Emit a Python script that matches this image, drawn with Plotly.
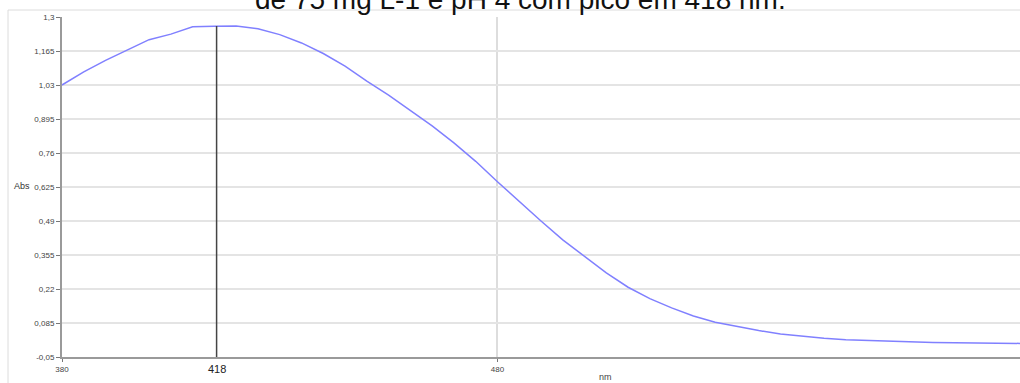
import plotly.graph_objects as go

# Data
wavelength_nm = [380, 385, 390, 395, 400, 405, 410, 415, 420, 425, 430, 435, 440, 445,
                 450, 455, 460, 465, 470, 475, 480, 485, 490, 495, 500, 505, 510, 515,
                 520, 525, 530, 535, 540, 545, 550, 555, 560, 570, 580, 590, 600]
absorbance = [1.030, 1.082, 1.128, 1.170, 1.210, 1.232, 1.261, 1.263, 1.264, 1.253,
              1.230, 1.197, 1.155, 1.105, 1.045, 0.990, 0.930, 0.868, 0.800, 0.727,
              0.646, 0.567, 0.490, 0.415, 0.348, 0.284, 0.227, 0.182, 0.145, 0.113,
              0.088, 0.070, 0.055, 0.041, 0.032, 0.024, 0.018, 0.012, 0.008, 0.006, 0.004]

x_ticks = [380, 480, 600]
x_tick_labels = ["380", "480", "600"]
y_ticks = [-0.05, 0.085, 0.22, 0.355, 0.49, 0.625, 0.76, 0.895, 1.03, 1.165, 1.3]
y_tick_labels = ["-0,05", "0,085", "0,22", "0,355", "0,49", "0,625", "0,76", "0,895",
                 "1,03", "1,165", "1,3"]

marker_nm = 415.5
marker_label = "418"
title_text = "de 75 mg L-1 e pH 4 com pico em 418 nm."

FONT = "Liberation Sans, Arial, sans-serif"

W, H = 1020, 383
L, R, T, B = 62, 0, 17, 26
pw, ph = W - L - R, H - T - B


def px_x(p):
    return (p - L) / pw


def px_y(p):
    return 1 - (p - T) / ph


fig = go.Figure()

fig.add_trace(go.Scatter(
    x=wavelength_nm, y=absorbance, mode="lines",
    line=dict(color="#8080ff", width=1.5),
    hoverinfo="skip", showlegend=False, cliponaxis=True,
))

fig.add_trace(go.Scatter(
    x=[marker_nm, marker_nm], y=[-0.05, max(absorbance)], mode="lines",
    line=dict(color="#444444", width=1.5),
    hoverinfo="skip", showlegend=False,
))

shapes = [
    # outer frame (partially visible)
    dict(type="rect", xref="paper", yref="paper",
         x0=px_x(8), x1=1.2, y0=-0.3, y1=px_y(10),
         line=dict(color="#dcdcdc", width=1), fillcolor="rgba(0,0,0,0)", layer="below"),
]

annotations = [
    dict(text=title_text, xref="paper", yref="paper", x=px_x(520), y=px_y(17.5),
         xanchor="center", yanchor="bottom", showarrow=False,
         font=dict(family=FONT, size=28, color="#111111")),
    dict(text=marker_label, xref="x", yref="paper", x=marker_nm, y=px_y(361),
         xanchor="center", yanchor="top", showarrow=False,
         font=dict(family=FONT, size=11, color="#222222")),
    dict(text="Abs", xref="paper", yref="paper", x=px_x(22), y=px_y(186),
         xanchor="center", yanchor="middle", showarrow=False,
         font=dict(family=FONT, size=9, color="#333333")),
    dict(text="nm", xref="paper", yref="paper", x=px_x(605), y=px_y(377),
         xanchor="center", yanchor="middle", showarrow=False,
         font=dict(family=FONT, size=9, color="#444444")),
]

fig.update_layout(
    width=W, height=H,
    margin=dict(l=L, r=R, t=T, b=B, pad=0),
    paper_bgcolor="white", plot_bgcolor="white",
    shapes=shapes, annotations=annotations,
    xaxis=dict(
        range=[380, 600], tickvals=x_ticks, ticktext=x_tick_labels,
        showgrid=True, gridcolor="#dddddd", gridwidth=1.5,
        showline=True, linecolor="#9a9a9a", linewidth=2,
        ticks="outside", ticklen=3, tickcolor="#777777",
        tickfont=dict(family=FONT, size=8, color="#444444"),
        zeroline=False, fixedrange=True,
    ),
    yaxis=dict(
        range=[-0.05, 1.3], tickvals=y_ticks, ticktext=y_tick_labels,
        showgrid=True, gridcolor="#e4e4e4", gridwidth=2,
        showline=True, linecolor="#9a9a9a", linewidth=2,
        ticks="outside", ticklen=4, tickcolor="#777777",
        tickfont=dict(family=FONT, size=8, color="#444444"),
        zeroline=False, fixedrange=True,
    ),
)

fig.write_html("out.html")
